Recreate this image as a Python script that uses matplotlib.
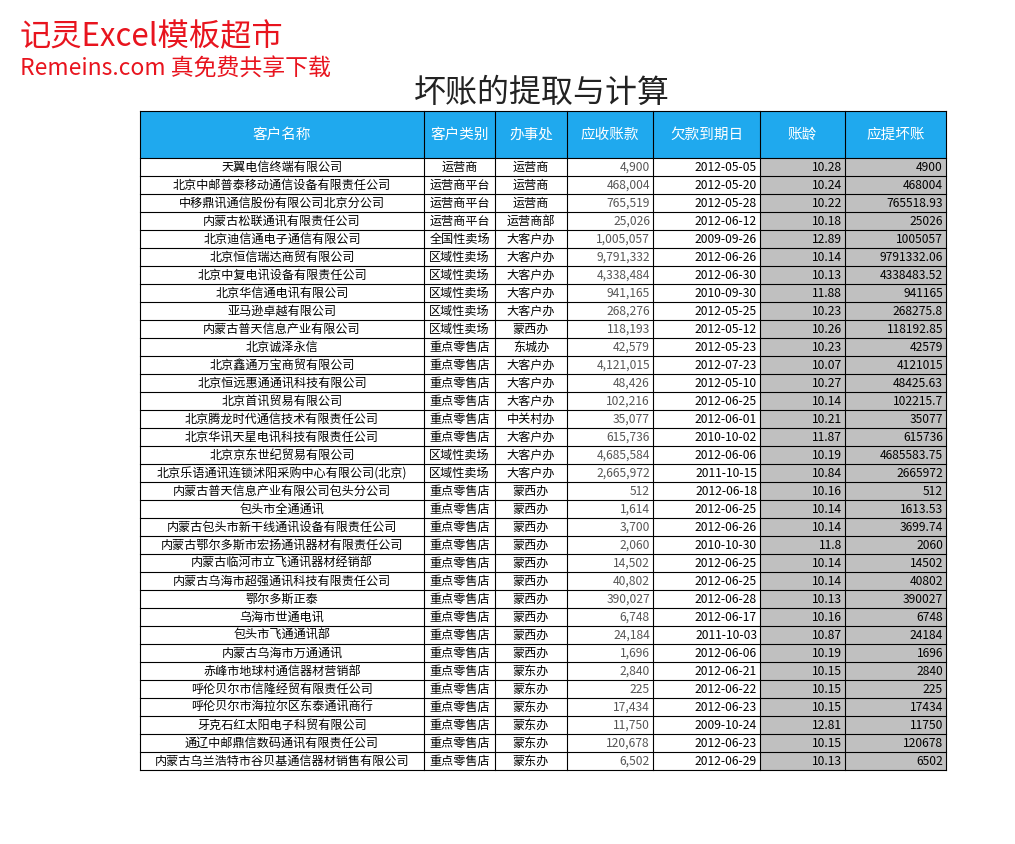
import matplotlib
matplotlib.use("Agg")
import matplotlib.pyplot as plt
from matplotlib.patches import Rectangle

plt.rcParams['font.family'] = ['Noto Sans CJK SC', 'DejaVu Sans']

headers = ["客户名称", "客户类别", "办事处", "应收账款", "欠款到期日", "账龄", "应提坏账"]
names = ["天翼电信终端有限公司", "北京中邮普泰移动通信设备有限责任公司", "中移鼎讯通信股份有限公司北京分公司",
         "内蒙古松联通讯有限责任公司", "北京迪信通电子通信有限公司", "北京恒信瑞达商贸有限公司",
         "北京中复电讯设备有限责任公司", "北京华信通电讯有限公司", "亚马逊卓越有限公司",
         "内蒙古普天信息产业有限公司", "北京诚泽永信", "北京鑫通万宝商贸有限公司",
         "北京恒远惠通通讯科技有限公司", "北京首讯贸易有限公司", "北京腾龙时代通信技术有限责任公司",
         "北京华讯天星电讯科技有限责任公司", "北京京东世纪贸易有限公司", "北京乐语通讯连锁沭阳采购中心有限公司(北京)",
         "内蒙古普天信息产业有限公司包头分公司", "包头市全通通讯", "内蒙古包头市新干线通讯设备有限责任公司",
         "内蒙古鄂尔多斯市宏扬通讯器材有限责任公司", "内蒙古临河市立飞通讯器材经销部", "内蒙古乌海市超强通讯科技有限责任公司",
         "鄂尔多斯正泰", "乌海市世通电讯", "包头市飞通通讯部", "内蒙古乌海市万通通讯",
         "赤峰市地球村通信器材营销部", "呼伦贝尔市信隆经贸有限责任公司", "呼伦贝尔市海拉尔区东泰通讯商行",
         "牙克石红太阳电子科贸有限公司", "通辽中邮鼎信数码通讯有限责任公司", "内蒙古乌兰浩特市谷贝基通信器材销售有限公司"]
types = ["运营商", "运营商平台", "运营商平台", "运营商平台", "全国性卖场", "区域性卖场", "区域性卖场", "区域性卖场",
         "区域性卖场", "区域性卖场"] + ["重点零售店"] * 6 + ["区域性卖场", "区域性卖场"] + ["重点零售店"] * 16
offices = ["运营商", "运营商", "运营商", "运营商部", "大客户办", "大客户办", "大客户办", "大客户办", "大客户办",
           "蒙西办", "东城办", "大客户办", "大客户办", "大客户办", "中关村办", "大客户办", "大客户办", "大客户办",
           "蒙西办", "蒙西办", "蒙西办", "蒙西办", "蒙西办", "蒙西办", "蒙西办", "蒙西办", "蒙西办", "蒙西办",
           "蒙东办", "蒙东办", "蒙东办", "蒙东办", "蒙东办", "蒙东办"]
receivables = ["4,900", "468,004", "765,519", "25,026", "1,005,057", "9,791,332", "4,338,484", "941,165", "268,276",
               "118,193", "42,579", "4,121,015", "48,426", "102,216", "35,077", "615,736", "4,685,584", "2,665,972",
               "512", "1,614", "3,700", "2,060", "14,502", "40,802", "390,027", "6,748", "24,184", "1,696",
               "2,840", "225", "17,434", "11,750", "120,678", "6,502"]
due_dates = ["2012-05-05", "2012-05-20", "2012-05-28", "2012-06-12", "2009-09-26", "2012-06-26", "2012-06-30",
             "2010-09-30", "2012-05-25", "2012-05-12", "2012-05-23", "2012-07-23", "2012-05-10", "2012-06-25",
             "2012-06-01", "2010-10-02", "2012-06-06", "2011-10-15", "2012-06-18", "2012-06-25", "2012-06-26",
             "2010-10-30", "2012-06-25", "2012-06-25", "2012-06-28", "2012-06-17", "2011-10-03", "2012-06-06",
             "2012-06-21", "2012-06-22", "2012-06-23", "2009-10-24", "2012-06-23", "2012-06-29"]
ages = ["10.28", "10.24", "10.22", "10.18", "12.89", "10.14", "10.13", "11.88", "10.23", "10.26", "10.23", "10.07",
        "10.27", "10.14", "10.21", "11.87", "10.19", "10.84", "10.16", "10.14", "10.14", "11.8", "10.14", "10.14",
        "10.13", "10.16", "10.87", "10.19", "10.15", "10.15", "10.15", "12.81", "10.15", "10.13"]
bad_debts = ["4900", "468004", "765518.93", "25026", "1005057", "9791332.06", "4338483.52", "941165", "268275.8",
             "118192.85", "42579", "4121015", "48425.63", "102215.7", "35077", "615736", "4685583.75", "2665972",
             "512", "1613.53", "3699.74", "2060", "14502", "40802", "390027", "6748", "24184", "1696", "2840",
             "225", "17434", "11750", "120678", "6502"]

W, H = 1015, 844
fig = plt.figure(figsize=(W / 100, H / 100), dpi=100)
ax = fig.add_axes([0, 0, 1, 1])
ax.set_xlim(0, W)
ax.set_ylim(H, 0)
ax.axis('off')

xs = [140, 424, 495, 567, 653, 760, 845, 946]
top, hb, rh = 111, 158, 18
n = len(names)
bottom = hb + n * rh

ax.add_patch(Rectangle((xs[0], top), xs[-1] - xs[0], hb - top, facecolor='#1FA9EE', edgecolor='none'))
for j, h in enumerate(headers):
    ax.text((xs[j] + xs[j + 1]) / 2, (top + hb) / 2, h, ha='center', va='center', color='white', fontsize=10.5)
ax.add_patch(Rectangle((xs[5], hb), xs[7] - xs[5], n * rh, facecolor='#C0C0C0', edgecolor='none'))

cols = [names, types, offices, receivables, due_dates, ages, bad_debts]
aligns = ['center', 'center', 'center', 'right', 'right', 'right', 'right']
for i in range(n):
    y = hb + i * rh + rh / 2 + 0.5
    for j, col in enumerate(cols):
        a = aligns[j]
        x = (xs[j] + xs[j + 1]) / 2 if a == 'center' else xs[j + 1] - 3
        ax.text(x, y, col[i], ha=a, va='center', fontsize=8.7,
                color='#555555' if j == 3 else 'black')

for x in xs:
    ax.plot([x, x], [top, bottom], color='black', lw=0.8)
ax.plot([xs[0], xs[-1]], [top, top], color='black', lw=0.8)
for i in range(n + 1):
    y = hb + i * rh
    ax.plot([xs[0], xs[-1]], [y, y], color='black', lw=0.8)

ax.text(542, 93, "坏账的提取与计算", ha='center', va='center', fontsize=23, color='#222222')
ax.text(20, 37, "记灵Excel模板超市", ha='left', va='center', fontsize=22.5, color='#E8141E')
ax.text(20, 68, "Remeins.com 真免费共享下载", ha='left', va='center', fontsize=16.5, color='#E8141E')

fig.savefig("out.png", dpi=100, facecolor='white')
